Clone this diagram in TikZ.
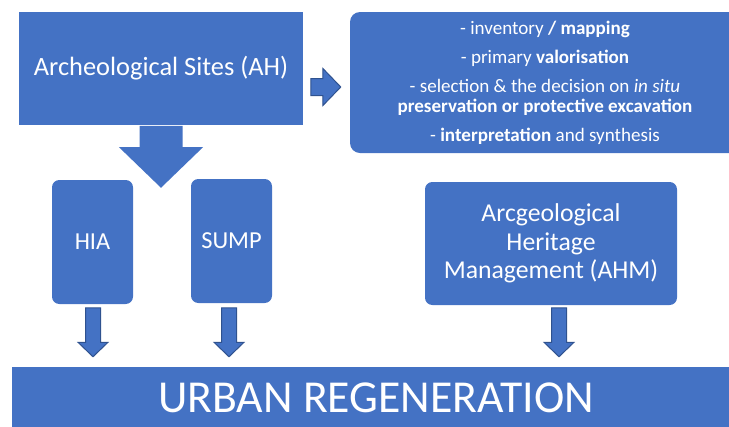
\documentclass[tikz,border=0pt]{standalone}
\usepackage{fontspec}
\setmainfont{Carlito}
\usepackage{tikz}
\usetikzlibrary{shapes.arrows,calc}
\definecolor{boxblue}{RGB}{68,114,196}
\definecolor{edgeblue}{RGB}{47,82,143}

\begin{document}
\begin{tikzpicture}[x=0.75pt,y=0.75pt,yscale=-1,xscale=1,
    sqbox/.style={fill=boxblue,text=white,inner sep=0pt,align=center},
    rndbox/.style={sqbox,rounded corners=5.5pt},
    blockarrow/.style={single arrow,fill=boxblue,draw=edgeblue,line width=0.75pt,inner xsep=0pt,single arrow tip angle=92},
    downarrow/.style={blockarrow,shape border rotate=270,minimum height=36.75pt,inner xsep=5.25pt,inner ysep=0pt,single arrow head extend=5.6pt,anchor=tail}]
        \clip (0,0) rectangle (729,426);

        \node [sqbox,minimum width=213pt,minimum height=84.75pt,font=\fontsize{19.8}{23}\selectfont] (sites) at (161,68.5) {Archeological Sites (AH)};
        \node [rndbox,rounded corners=7.5pt,minimum width=292.5pt,minimum height=105.75pt,font=\fontsize{14.3}{15}\selectfont] (tasks) at (545,82.5) {- inventory \textbf{/ mapping}\\[6.75pt]
            - primary \textbf{valorisation}\\[6.75pt]
            - selection \& the decision on \textit{in situ}\\
            \textbf{preservation or protective excavation}\\[6.75pt]
            - \textbf{interpretation} and synthesis};
        \node [rndbox,minimum width=60.75pt,minimum height=93pt,font=\fontsize{18.3}{21}\selectfont] (hia) at (92.5,242) {HIA};
        \node [rndbox,minimum width=60.75pt,minimum height=93pt,font=\fontsize{18.3}{21}\selectfont] (sump) at (231.5,241) {SUMP};
        \node [rndbox,minimum width=189pt,minimum height=92.25pt,font=\fontsize{19.3}{21.4}\selectfont] (ahm) at (551,243.5) {Arcgeological\\Heritage\\Management (AHM)};
        \node [sqbox,minimum width=546pt,minimum height=46.5pt,font=\fontsize{34.3}{40}\selectfont] (urban) at (376,398) {URBAN REGENERATION};

        \node [blockarrow,draw=none,shape border rotate=270,minimum height=46.5pt,inner xsep=15.75pt,inner ysep=0pt,single arrow head extend=15.4pt,anchor=tail] (split) at (sites.south) {};
        \node [blockarrow,minimum height=22.5pt,inner ysep=6pt,single arrow head extend=7.5pt,anchor=tail] (toright) at ($(sites.east)+(7,18.5)$) {};
        \node [downarrow] (hiadown) at ($(hia.south)+(0.5,3)$) {};
        \node [downarrow] (sumpdown) at ($(sump.south)+(-2.5,4)$) {};
        \node [downarrow] (ahmdown) at ($(ahm.south)+(8,2)$) {};

    \end{tikzpicture}
\end{document}
